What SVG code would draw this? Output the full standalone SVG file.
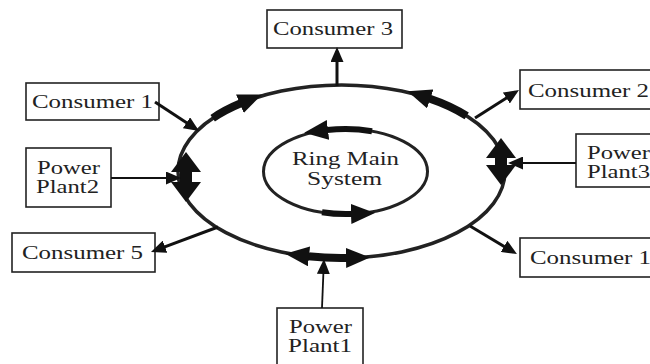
<svg xmlns="http://www.w3.org/2000/svg" width="650" height="364" viewBox="0 0 650 364">
<style>
.box{fill:#fff;stroke:#222;stroke-width:1.6}
.t{font-family:"Liberation Serif","Times New Roman",serif;font-size:19px;fill:#222}
.t2{font-family:"Liberation Serif","Times New Roman",serif;font-size:18px;fill:#222}
.ring{fill:none;stroke:#222;stroke-width:3.5}
.iring{fill:none;stroke:#222;stroke-width:3}
.big{fill:none;stroke:#111;stroke-width:8}
.mid{fill:none;stroke:#111;stroke-width:12}
.con{fill:none;stroke:#111;stroke-width:3}
.pp{fill:none;stroke:#111;stroke-width:1.8}
</style>
<defs>
<marker id="hb" markerUnits="userSpaceOnUse" viewBox="0 0 24 20" markerWidth="24" markerHeight="20" refX="1" refY="10" orient="auto-start-reverse"><path d="M0,0 L24,10 L0,20 z" fill="#111"/></marker>
<marker id="hm" markerUnits="userSpaceOnUse" viewBox="0 0 20 30" markerWidth="20" markerHeight="30" refX="1" refY="15" orient="auto-start-reverse"><path d="M0,0 L20,15 L0,30 z" fill="#111"/></marker>
<marker id="hs" markerUnits="userSpaceOnUse" viewBox="0 0 15 13" markerWidth="15" markerHeight="13" refX="11" refY="6.5" orient="auto"><path d="M0,0 L15,6.5 L0,13 z" fill="#111"/></marker>
</defs>

<g id="ring-main">
<ellipse class="ring" cx="341.5" cy="171.5" rx="163.5" ry="86.5"/>
<ellipse class="iring" cx="345.5" cy="171.5" rx="82" ry="42.5"/>
<text class="t" x="292" y="165" textLength="107" lengthAdjust="spacingAndGlyphs">Ring Main</text>
<text class="t" x="307" y="185" textLength="75" lengthAdjust="spacingAndGlyphs">System</text>
</g>

<g id="consumer3"><rect class="box" x="267" y="10" width="135" height="38"/><text class="t" x="273" y="35" textLength="120" lengthAdjust="spacingAndGlyphs">Consumer 3</text></g>
<g id="consumer1-left"><rect class="box" x="26" y="83" width="133" height="37"/><text class="t" x="32" y="108" textLength="121" lengthAdjust="spacingAndGlyphs">Consumer 1</text></g>
<g id="powerplant2"><rect class="box" x="26" y="148" width="85" height="59"/><text class="t2" x="37" y="174" textLength="63" lengthAdjust="spacingAndGlyphs">Power</text><text class="t2" x="36" y="193" textLength="63" lengthAdjust="spacingAndGlyphs">Plant2</text></g>
<g id="consumer5"><rect class="box" x="12" y="233" width="143" height="39"/><text class="t" x="22" y="259" textLength="121" lengthAdjust="spacingAndGlyphs">Consumer 5</text></g>
<g id="consumer2"><rect class="box" x="520" y="70" width="140" height="39"/><text class="t" x="528" y="97" textLength="121" lengthAdjust="spacingAndGlyphs">Consumer 2</text></g>
<g id="powerplant3"><rect class="box" x="576" y="134" width="90" height="53"/><text class="t2" x="587" y="159" textLength="63" lengthAdjust="spacingAndGlyphs">Power</text><text class="t2" x="587" y="178" textLength="63" lengthAdjust="spacingAndGlyphs">Plant3</text></g>
<g id="consumer1-right"><rect class="box" x="520" y="238" width="140" height="39"/><text class="t" x="530" y="264" textLength="121" lengthAdjust="spacingAndGlyphs">Consumer 1</text></g>
<g id="powerplant1"><rect class="box" x="277" y="308" width="86" height="70"/><text class="t2" x="289" y="333" textLength="63" lengthAdjust="spacingAndGlyphs">Power</text><text class="t2" x="288" y="352" textLength="64" lengthAdjust="spacingAndGlyphs">Plant1</text></g>

<g id="connectors">
<path class="big" d="M212.7,118.2 A163.5,86.5 0 0 1 240.8,103.3" marker-end="url(#hb)"/>
<path class="big" d="M466.7,115.9 A163.5,86.5 0 0 0 429.3,98.5" marker-end="url(#hb)"/>
<path class="mid" d="M501,157 L501,166" marker-start="url(#hm)" marker-end="url(#hm)"/>
<path class="mid" d="M186,171 L186,183" marker-start="url(#hm)" marker-end="url(#hm)"/>
<path class="big" d="M308,256.2 A163.5,86.5 0 0 0 347,257.9" marker-start="url(#hb)" marker-end="url(#hb)"/>
<path class="big" style="stroke-width:6" d="M372,131.3 A82,42.5 0 0 0 327,130.1" marker-end="url(#hb)"/>
<path class="big" style="stroke-width:6" d="M322,212.2 A82,42.5 0 0 0 352,213.9" marker-end="url(#hb)"/>
<path class="con" d="M337,86 L337,51" marker-end="url(#hs)"/>
<path class="con" d="M155,102 L195.7,128.8" marker-end="url(#hs)"/>
<path class="con" d="M218,227 L154.7,250.6" marker-end="url(#hs)"/>
<path class="con" d="M475,118 L515.6,92.1" marker-end="url(#hs)"/>
<path class="con" d="M470,226 L513.5,252" marker-end="url(#hs)"/>
<path class="pp" d="M111,178 L177,178" marker-end="url(#hs)"/>
<path class="pp" d="M576,163 L512,163" marker-end="url(#hs)"/>
<path class="pp" d="M322,308 L323.8,263" marker-end="url(#hs)"/>
</g>
</svg>
